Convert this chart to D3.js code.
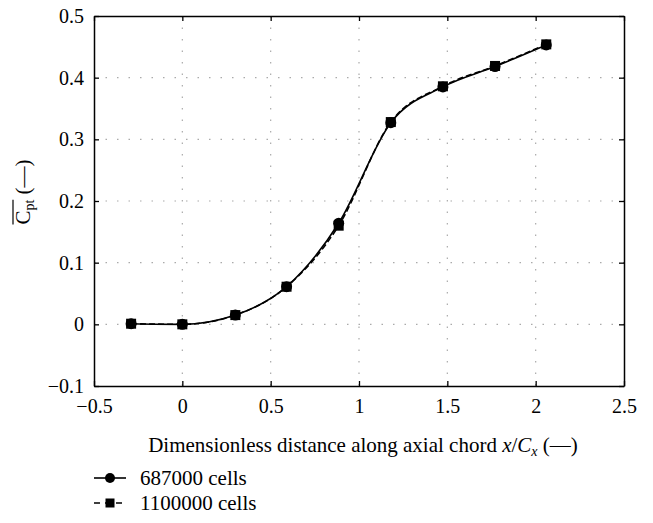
<!DOCTYPE html>
<html>
<head>
<meta charset="utf-8">
<script src="https://cdn.jsdelivr.net/npm/d3@7"></script>
<style>
  body { margin: 0; background: #fff; }
</style>
</head>
<body>
<svg width="653" height="523"></svg>
<script>
const xTicks = [-0.5, 0, 0.5, 1, 1.5, 2, 2.5];
const yTicks = [-0.1, 0, 0.1, 0.2, 0.3, 0.4, 0.5];
const xPos = [-0.29, 0, 0.3, 0.59, 0.885, 1.18, 1.475, 1.77, 2.06];
const coarse = [0.001, 0.0, 0.015, 0.061, 0.164, 0.327, 0.385, 0.418, 0.453];
const fine = [0.001, 0.0, 0.015, 0.061, 0.160, 0.328, 0.386, 0.419, 0.454];
const seriesNames = ["687000 cells", "1100000 cells"];

const FONT = "Liberation Serif";
const svg = d3.select("svg");
const plotLeft = 94, plotRight = 624, plotTop = 16, plotBottom = 386;

const xScale = d3.scaleLinear().domain([-0.5, 2.5]).range([plotLeft, plotRight]);
const yScale = d3.scaleLinear().domain([-0.1, 0.5]).range([plotBottom, plotTop]);
const fmt = (d) => (d < 0 ? "\u2212" + Math.abs(d) : String(d));

// Grid
const grid = svg.append("g").attr("stroke", "#aaa").attr("stroke-width", 1.2)
  .attr("stroke-dasharray", "1.5,10");
grid.selectAll("line.gx")
  .data(xTicks.slice(1, -1))
  .enter()
  .append("line")
  .attr("x1", (d) => xScale(d)).attr("x2", (d) => xScale(d))
  .attr("y1", plotTop).attr("y2", plotBottom);
grid.selectAll("line.gy")
  .data(yTicks.slice(1, -1))
  .enter()
  .append("line")
  .attr("y1", (d) => yScale(d)).attr("y2", (d) => yScale(d))
  .attr("x1", plotLeft).attr("x2", plotRight);

// Axes with inward ticks on all sides
svg.append("g")
  .attr("transform", "translate(0," + plotBottom + ")")
  .call(d3.axisBottom(xScale).tickValues(xTicks).tickSizeInner(-5).tickSizeOuter(0).tickPadding(13).tickFormat(fmt))
  .attr("font-family", FONT).attr("font-size", 20);
svg.append("g")
  .attr("transform", "translate(0," + plotTop + ")")
  .call(d3.axisTop(xScale).tickValues(xTicks).tickSizeInner(-5).tickSizeOuter(0).tickFormat(""));
svg.append("g")
  .attr("transform", "translate(" + plotLeft + ",0)")
  .call(d3.axisLeft(yScale).tickValues(yTicks).tickSizeInner(-5).tickSizeOuter(0).tickPadding(10).tickFormat(fmt))
  .attr("font-family", FONT).attr("font-size", 20);
svg.append("g")
  .attr("transform", "translate(" + plotRight + ",0)")
  .call(d3.axisRight(yScale).tickValues(yTicks).tickSizeInner(-5).tickSizeOuter(0).tickFormat(""));
svg.selectAll(".domain").attr("stroke", "#000").attr("stroke-width", 1.5);
svg.selectAll(".tick line").attr("stroke", "#000").attr("stroke-width", 1.3);

// Lines
const line = d3.line()
  .x((d, i) => xScale(xPos[i]))
  .y((d) => yScale(d))
  .curve(d3.curveMonotoneX);
svg.append("path").datum(coarse).attr("d", line)
  .attr("fill", "none").attr("stroke", "#000").attr("stroke-width", 1.6);
svg.append("path").datum(fine).attr("d", line)
  .attr("fill", "none").attr("stroke", "#000").attr("stroke-width", 1.6)
  .attr("stroke-dasharray", "6,3");

// Markers
svg.append("g").selectAll("circle")
  .data(coarse)
  .enter()
  .append("circle")
  .attr("cx", (d, i) => xScale(xPos[i]))
  .attr("cy", (d) => yScale(d))
  .attr("r", 5.5)
  .attr("fill", "#000");
svg.append("g").selectAll("rect")
  .data(fine)
  .enter()
  .append("rect")
  .attr("x", (d, i) => xScale(xPos[i]) - 5)
  .attr("y", (d) => yScale(d) - 5)
  .attr("width", 10).attr("height", 10)
  .attr("fill", "#000");

// X label
const xl = svg.append("text")
  .attr("x", (plotLeft + plotRight) / 2 + 4)
  .attr("y", 452)
  .attr("text-anchor", "middle")
  .attr("font-family", FONT).attr("font-size", 21);
xl.append("tspan").text("Dimensionless distance along axial chord ");
xl.append("tspan").attr("font-style", "italic").text("x");
xl.append("tspan").text("/");
xl.append("tspan").attr("font-style", "italic").text("C");
xl.append("tspan").attr("font-style", "italic").attr("font-size", 14).attr("dy", 4).text("x");
xl.append("tspan").attr("dy", -4).text(" (\u2014)");

// Y label, with the overline drawn over C_pt
const ylg = svg.append("g").attr("transform", "translate(30,192)rotate(-90)");
const yl = ylg.append("text")
  .attr("text-anchor", "middle")
  .attr("font-family", FONT).attr("font-size", 21);
yl.append("tspan").text("C");
yl.append("tspan").attr("font-size", 14).attr("dy", 4).text("pt");
yl.append("tspan").attr("dy", -4).text(" (\u2014)");
const full = yl.node().getBBox();
const tmp = ylg.append("text").attr("font-family", FONT).attr("font-size", 21);
tmp.append("tspan").text("C");
tmp.append("tspan").attr("font-size", 14).text("pt");
const barW = tmp.node().getComputedTextLength();
tmp.remove();
ylg.append("line")
  .attr("x1", full.x).attr("x2", full.x + barW)
  .attr("y1", -17).attr("y2", -17)
  .attr("stroke", "#000").attr("stroke-width", 1.2);

// Legend
const legend = svg.append("g").attr("transform", "translate(94,478)");
seriesNames.forEach((name, i) => {
  const g = legend.append("g").attr("transform", "translate(0," + i * 25 + ")");
  g.append("line").attr("x1", 0).attr("x2", 32).attr("y1", 0).attr("y2", 0)
    .attr("stroke", "#000").attr("stroke-width", 1.6)
    .attr("stroke-dasharray", i === 0 ? null : "6,5");
  if (i === 0) {
    g.append("circle").attr("cx", 16).attr("cy", 0).attr("r", 5).attr("fill", "#000");
  } else {
    g.append("rect").attr("x", 11.5).attr("y", -4.5).attr("width", 9).attr("height", 9).attr("fill", "#000");
  }
  g.append("text").attr("x", 46).attr("y", 7)
    .attr("font-family", FONT).attr("font-size", 21).text(name);
});
</script>
</body>
</html>
